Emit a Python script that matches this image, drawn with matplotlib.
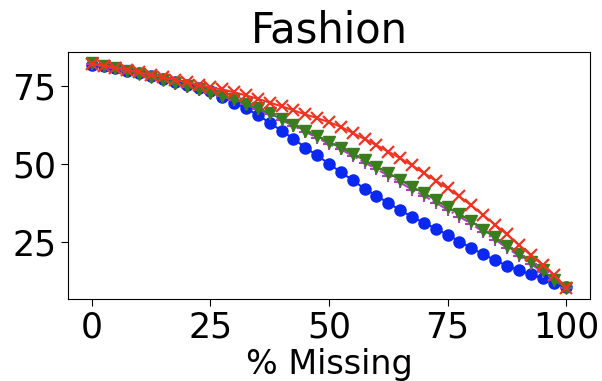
import numpy as np
import matplotlib
matplotlib.use("Agg")
import matplotlib.pyplot as plt

missing = [i * 2.5 for i in range(41)]

blue = [82.0, 81.5, 80.8, 80.0, 79.2, 78.3, 77.4, 76.5, 75.5, 74.5,
        73.4, 71.7, 69.8, 67.9, 65.8, 63.3, 60.7, 58.2, 55.3, 52.8,
        50.1, 47.4, 44.8, 42.1, 39.8, 37.5, 35.2, 33.0, 31.2, 29.2,
        27.3, 25.1, 23.0, 21.0, 19.1, 17.3, 15.9, 14.5, 13.3, 11.8, 10.4]

purple = [82.3, 81.6, 80.8, 79.9, 78.9, 77.9, 76.9, 75.9, 74.9, 73.9,
          72.9, 71.8, 70.6, 69.2, 67.6, 66.0, 64.2, 62.3, 60.4, 58.5,
          56.5, 54.7, 52.7, 50.5, 48.4, 46.3, 44.1, 41.8, 39.8, 37.6,
          35.3, 33.1, 30.8, 28.2, 25.7, 23.1, 20.5, 17.9, 15.3, 12.6, 10.2]

green = [82.5, 81.7, 80.9, 80.0, 79.0, 78.0, 77.0, 76.0, 75.0, 74.0,
         73.0, 72.0, 70.8, 69.4, 67.9, 66.3, 64.5, 62.6, 60.8, 59.0,
         57.0, 55.3, 53.4, 51.2, 49.2, 47.1, 45.0, 42.7, 40.7, 38.5,
         36.1, 34.0, 31.6, 28.9, 26.4, 23.7, 21.1, 18.4, 15.8, 12.8, 10.2]

red = [82.2, 81.7, 80.9, 80.3, 79.5, 78.8, 77.9, 77.1, 76.3, 75.5,
       74.7, 74.0, 73.1, 72.1, 71.0, 69.8, 68.6, 67.3, 66.0, 64.8,
       63.5, 62.0, 60.0, 58.1, 56.1, 54.0, 51.9, 49.6, 47.1, 44.7,
       42.2, 39.6, 36.7, 33.6, 30.5, 27.4, 24.0, 20.8, 17.6, 14.2, 10.3]

fig = plt.figure(figsize=(6.02, 3.81), dpi=100)
ax = fig.add_axes([0.113, 0.215, 0.867, 0.649])

ax.plot(missing, blue, color='#0a28f0', marker='o', markersize=8, linewidth=1.5)
ax.plot(missing, purple, color='#b040c0', marker='+', markersize=8, linewidth=1.5,
        linestyle='-.', markeredgewidth=1.5)
ax.plot(missing, green, color='#3a7d1e', marker='v', markersize=9, linewidth=1.5)
ax.plot(missing, red, color='#ee3524', marker='x', markersize=8, linewidth=1.5,
        markeredgewidth=1.6)

ax.set_xticks([0, 25, 50, 75, 100])
ax.set_yticks([25, 50, 75])
ax.tick_params(labelsize=25, length=5)
ax.set_xlabel('% Missing', fontsize=24, labelpad=2)
ax.set_title('Fashion', fontsize=30, pad=5)

fig.savefig('out.png', dpi=100)
